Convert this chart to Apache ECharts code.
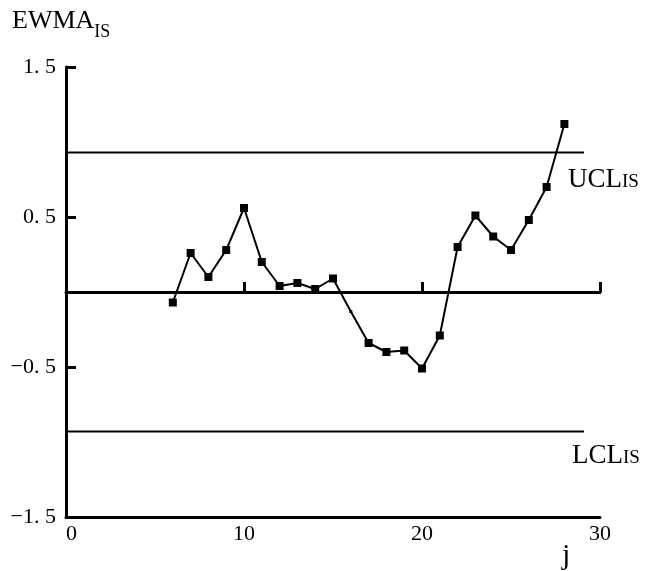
<!DOCTYPE html>
<html>
<head>
<meta charset="utf-8">
<script src="https://cdn.jsdelivr.net/npm/echarts@6/dist/echarts.min.js"></script>
<style>
html, body { margin: 0; padding: 0; background: #fff; }
#main { width: 650px; height: 571px; }
</style>
</head>
<body>
<div id="main"></div>
<script>
// sample index j and the EWMA_IS statistic
var jValues = [6, 7, 8, 9, 10, 11, 12, 13, 14, 15, 16, 17, 18, 19, 20, 21, 22, 23, 24, 25, 26, 27, 28];
var ewmaValues = [-0.07, 0.26, 0.10, 0.28, 0.56, 0.20, 0.04, 0.06, 0.02, 0.09, -0.13, -0.34, -0.40, -0.39, -0.51, -0.29, 0.30, 0.51, 0.37, 0.28, 0.48, 0.70, 1.12];
// control limits
var limitJ = [0, 29.1];
var uclValue = 0.93;
var lclValue = -0.93;
var xTicks = [0, 10, 20, 30];
var yTicks = [-1.5, -0.5, 0.5, 1.5];

var serif = 'Liberation Serif, Times New Roman, serif';
var black = '#000';

var myChart = echarts.init(document.getElementById('main'), null, {renderer: 'canvas'});

var ewmaData = jValues.map(function (j, i) {
    var item = {value: [j, ewmaValues[i]]};
    if (j === 16) {
        item.symbolSize = 3;
    }
    return item;
});

function limitLine(v) {
    return limitJ.map(function (j) { return [j, v]; });
}

option = {
    animation: false,
    backgroundColor: '#fff',
    grid: {
        left: 66,
        right: 50,
        top: 67,
        bottom: 54,
        containLabel: false
    },
    xAxis: [{
        type: 'value',
        position: 'bottom',
        min: xTicks[0],
        max: xTicks[xTicks.length - 1],
        interval: 10,
        axisLine: {show: true, onZero: false, lineStyle: {color: black, width: 3}},
        axisTick: {show: false},
        axisLabel: {
            color: black, fontSize: 22, fontFamily: serif, margin: 6,
            showMinLabel: true, showMaxLabel: true,
            formatter: function (v) { return v === 0 ? '  0' : String(v); }
        },
        splitLine: {show: false}
    }, {
        type: 'value',
        position: 'bottom',
        min: xTicks[0],
        max: xTicks[xTicks.length - 1],
        interval: 10,
        axisLine: {show: true, onZero: true, lineStyle: {color: black, width: 3}},
        axisTick: {show: true, inside: true, length: 10, lineStyle: {color: black, width: 3}},
        axisLabel: {show: false},
        splitLine: {show: false}
    }],
    yAxis: {
        type: 'value',
        min: yTicks[0],
        max: yTicks[yTicks.length - 1],
        interval: 1,
        axisLine: {show: true, lineStyle: {color: black, width: 3}},
        axisTick: {show: true, inside: true, length: 10, lineStyle: {color: black, width: 3}},
        axisLabel: {
            color: black, fontSize: 22, fontFamily: serif, margin: 10,
            showMinLabel: true, showMaxLabel: true,
            formatter: function (v) { return String(v).replace('.', '. ').replace('-', '\u2212'); }
        },
        splitLine: {show: false}
    },
    series: [{
        name: 'UCL',
        type: 'line',
        xAxisIndex: 0,
        data: limitLine(uclValue),
        symbol: 'none',
        lineStyle: {color: black, width: 2},
        silent: true
    }, {
        name: 'LCL',
        type: 'line',
        xAxisIndex: 0,
        data: limitLine(lclValue),
        symbol: 'none',
        lineStyle: {color: black, width: 2},
        silent: true
    }, {
        name: 'EWMA',
        type: 'line',
        xAxisIndex: 0,
        data: ewmaData,
        symbol: 'rect',
        symbolSize: 8,
        itemStyle: {color: black},
        lineStyle: {color: black, width: 2},
        z: 5
    }],
    graphic: [{
        type: 'text',
        left: 12,
        top: 8,
        style: {
            text: '{a|EWMA}{b|IS}',
            rich: {
                a: {fontSize: 26, fontFamily: serif, fill: black, verticalAlign: 'bottom', padding: [0, 0, 7, 0]},
                b: {fontSize: 18, fontFamily: serif, fill: black, verticalAlign: 'bottom'}
            }
        }
    }, {
        type: 'text',
        left: 568,
        top: 166,
        style: {
            text: '{a|UCL}{b|IS}',
            rich: {
                a: {fontSize: 27, fontFamily: serif, fill: black, verticalAlign: 'bottom'},
                b: {fontSize: 19, fontFamily: serif, fill: black, verticalAlign: 'bottom', padding: [0, 0, 1, 0]}
            }
        }
    }, {
        type: 'text',
        left: 572,
        top: 442,
        style: {
            text: '{a|LCL}{b|IS}',
            rich: {
                a: {fontSize: 27, fontFamily: serif, fill: black, verticalAlign: 'bottom'},
                b: {fontSize: 19, fontFamily: serif, fill: black, verticalAlign: 'bottom', padding: [0, 0, 1, 0]}
            }
        }
    }, {
        type: 'text',
        left: 562,
        top: 541,
        style: {
            text: 'j',
            fontSize: 30,
            fontFamily: serif,
            fill: black
        }
    }]
};

myChart.setOption(option);
</script>
</body>
</html>
